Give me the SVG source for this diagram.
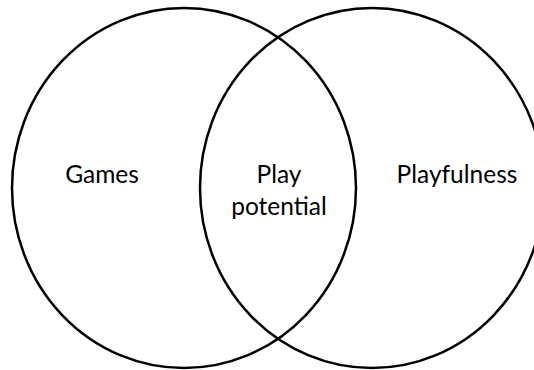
<svg xmlns="http://www.w3.org/2000/svg" width="534" height="370" viewBox="0 0 534 370">
<style>
.c{fill:none;stroke:#000;stroke-width:2.5}
.t{font-family:Lato,"Liberation Sans",sans-serif;font-size:24.5px;fill:#000;text-anchor:middle}
</style>
<rect width="534" height="370" fill="#fff"/>
<g id="games">
<ellipse class="c" cx="184" cy="188" rx="172" ry="180"/>
<text class="t" x="102" y="183">Games</text>
</g>
<g id="playfulness">
<ellipse class="c" cx="372" cy="188" rx="172" ry="180"/>
<text class="t" x="457" y="183">Playfulness</text>
</g>
<g id="play-potential">
<text class="t" x="279" y="183">Play</text>
<text class="t" x="279" y="215">potential</text>
</g>
<g id="connectors"/>
</svg>
